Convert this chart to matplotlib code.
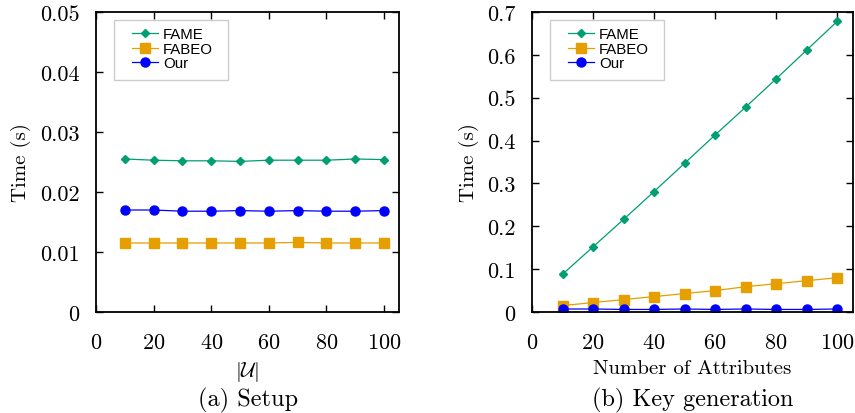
import matplotlib
matplotlib.use("Agg")
import matplotlib.pyplot as plt
from matplotlib.patches import Rectangle

plt.rcParams["font.family"] = "cmr10"
plt.rcParams["mathtext.fontset"] = "cm"
plt.rcParams["axes.formatter.use_mathtext"] = True

attributes = [10, 20, 30, 40, 50, 60, 70, 80, 90, 100]

setup_fame = [0.0255, 0.0253, 0.0252, 0.0252, 0.0251, 0.0253, 0.0253, 0.0253, 0.0255, 0.0254]
setup_fabeo = [0.0115, 0.0115, 0.0115, 0.0115, 0.0115, 0.0115, 0.0116, 0.0115, 0.0115, 0.0115]
setup_our = [0.0170, 0.0170, 0.0168, 0.0168, 0.0169, 0.0168, 0.0169, 0.0168, 0.0168, 0.0169]

keygen_fame = [0.088, 0.152, 0.216, 0.281, 0.347, 0.413, 0.478, 0.544, 0.611, 0.678]
keygen_fabeo = [0.015, 0.022, 0.029, 0.036, 0.043, 0.050, 0.059, 0.066, 0.073, 0.080]
keygen_our = [0.007, 0.007, 0.006, 0.006, 0.007, 0.006, 0.007, 0.006, 0.006, 0.007]

C_FAME = "#009e73"
C_FABEO = "#e69f00"
C_OUR = "#0000ff"

W, H = 855, 414


def draw_panel(ax, fame, fabeo, our, ymax, yticks, xlabel, caption):
    ax.plot(attributes, fame, color=C_FAME, marker="D", markersize=4.5, lw=0.9, label="FAME")
    ax.plot(attributes, fabeo, color=C_FABEO, marker="s", markersize=7, lw=0.9, label="FABEO")
    ax.plot(attributes, our, color=C_OUR, marker="o", markersize=6.5, lw=0.9, label="Our")
    ax.set_xlim(0, 105.2)
    ax.set_ylim(0, ymax)
    ax.set_xticks([0, 20, 40, 60, 80, 100])
    ax.set_yticks(yticks)
    ax.set_yticklabels(["0"] + [f"{t:g}" for t in yticks[1:]])
    ax.tick_params(direction="in", top=True, right=True, length=5, width=1, labelsize=16)
    ax.tick_params(axis="y", pad=12)
    ax.tick_params(axis="x", pad=15)
    for s in ax.spines.values():
        s.set_linewidth(1.3)
    ax.set_ylabel("Time (s)", fontsize=15, labelpad=6)
    ax.set_xlabel(xlabel, fontsize=15, labelpad=5)
    ax.text(0.5, -0.25, caption, transform=ax.transAxes, ha="center", va="top", fontsize=17.5)

    # legend: entries + separate frame box
    aw = ax.get_position().width * W
    ah = ax.get_position().height * H
    ax.legend(loc="upper left", bbox_to_anchor=(36 / aw, 1 - 15 / ah), frameon=False,
              prop={"family": "Liberation Sans", "size": 10.8},
              handlelength=1.7, borderpad=0, labelspacing=0.05, handletextpad=0.35,
              borderaxespad=0)
    ax.add_patch(Rectangle((18 / aw, 1 - 68 / ah), 114 / aw, 60 / ah, transform=ax.transAxes,
                           facecolor="white", edgecolor="#cccccc", lw=1, zorder=4.9))


fig = plt.figure(figsize=(W / 100, H / 100), dpi=100)
ax1 = fig.add_axes([96 / W, 1 - 313 / H, 303 / W, 300 / H])
ax2 = fig.add_axes([532 / W, 1 - 313 / H, 321 / W, 300 / H])

draw_panel(ax1, setup_fame, setup_fabeo, setup_our, 0.05,
           [0, 0.01, 0.02, 0.03, 0.04, 0.05], r"$|\mathcal{U}|$", "(a) Setup")
draw_panel(ax2, keygen_fame, keygen_fabeo, keygen_our, 0.7,
           [0, 0.1, 0.2, 0.3, 0.4, 0.5, 0.6, 0.7], "Number of Attributes", "(b) Key generation")

fig.savefig("out.png", dpi=100)
